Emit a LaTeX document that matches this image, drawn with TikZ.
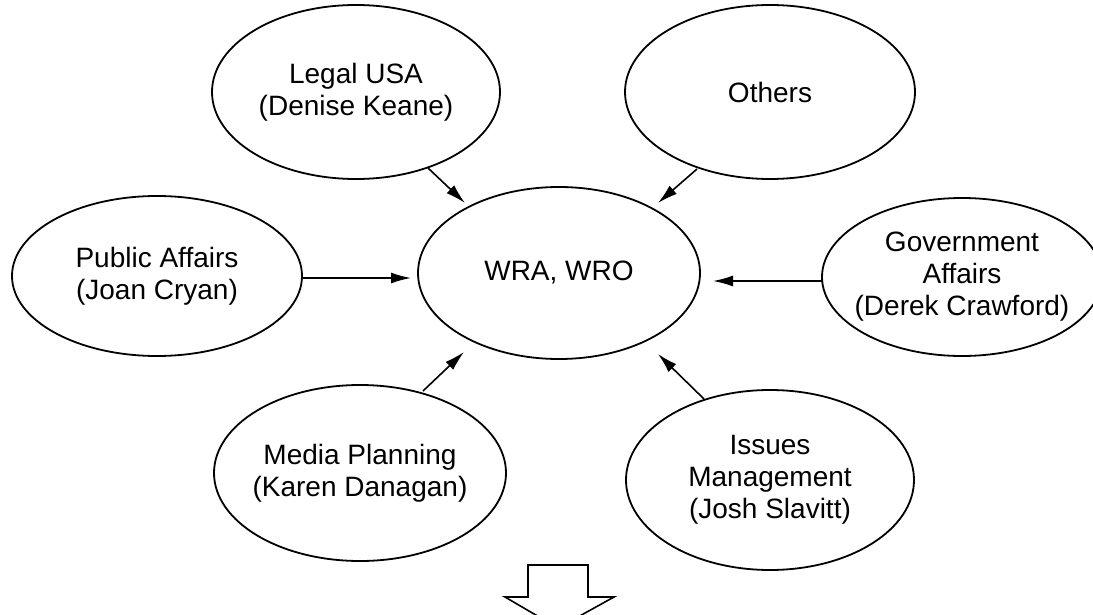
\documentclass[tikz,border=0pt]{standalone}
\usepackage{fontspec}
\setmainfont{Liberation Sans}
\usetikzlibrary{shapes.geometric,arrows.meta}
\begin{document}
\begin{tikzpicture}[x=1pt,y=-1pt,
  ell/.style={draw,ellipse,line width=1.8pt,inner sep=-40pt,align=center,
    font=\fontsize{28}{32}\selectfont},
  arr/.style={-{Latex[length=20pt,width=11pt]},line width=1.6pt}]
\useasboundingbox (0,0) rectangle (1093,615);
\clip (0,0) rectangle (1093,615);
\node[ell,minimum width=288pt,minimum height=174pt] (legal) at (356,92) {Legal USA\\(Denise Keane)};
\node[ell,minimum width=290pt,minimum height=174pt] (others) at (770,92) {Others};
\node[ell,minimum width=290pt,minimum height=160pt] (public) at (157,276) {Public Affairs\\(Joan Cryan)};
\node[ell,minimum width=282pt,minimum height=172pt] (wra) at (559,273) {WRA, WRO};
\node[ell,minimum width=280pt,minimum height=158pt] (gov) at (962,277) {Government\\Affairs\\(Derek Crawford)};
\node[ell,minimum width=292pt,minimum height=176pt] (media) at (360,473) {Media Planning\\(Karen Danagan)};
\node[ell,minimum width=288pt,minimum height=180pt] (issues) at (770,480) {Issues\\Management\\(Josh Slavitt)};
\draw[arr] ([shift={(72,76)}]legal.center) -- ([shift={(-94,-70)}]wra.center);
\draw[arr] ([shift={(-73,77)}]others.center) -- ([shift={(99,-70)}]wra.center);
\draw[arr] ([shift={(145,2)}]public.center) -- ([shift={(-148,5)}]wra.center);
\draw[arr] ([shift={(-140,4)}]gov.center) -- ([shift={(154,8)}]wra.center);
\draw[arr] ([shift={(63,-82)}]media.center) -- ([shift={(-95,79)}]wra.center);
\draw[arr] ([shift={(-66,-81)}]issues.center) -- ([shift={(99,81)}]wra.center);
\draw[line width=1.6pt,line join=miter] (528,565) -- (588,565) -- (588,597) -- (614,597) -- (558,628) -- (505,597) -- (528,597) -- cycle;
\end{tikzpicture}
\end{document}
